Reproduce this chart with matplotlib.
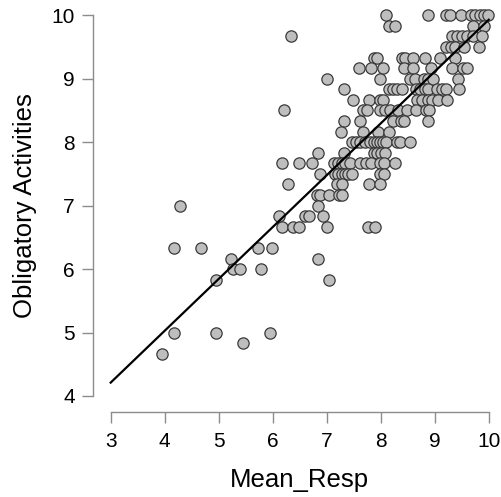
import numpy as np
import matplotlib
matplotlib.use('Agg')
import matplotlib.pyplot as plt

plt.rcParams['font.family'] = ['Liberation Sans', 'DejaVu Sans']

# Значения читаются по рядам: y кратен 1/6, x - среднее по ответам
rows = {
    10.0:  [8.10, 8.88, 9.21, 9.28, 9.49, 9.67, 9.75, 9.84, 9.91, 9.99],
    59/6:  [8.15, 8.27, 9.70, 9.92],
    58/6:  [6.34, 9.32, 9.41, 9.50, 9.60, 9.70, 9.88],
    9.5:   [9.21, 9.30, 9.38, 9.55, 9.82],
    56/6:  [7.88, 7.93, 8.39, 8.45, 8.60, 8.82, 9.09, 9.38],
    55/6:  [7.60, 7.82, 8.04, 8.43, 8.60, 8.93, 9.32, 9.52, 9.60],
    9.0:   [7.00, 7.99, 8.54, 8.63, 8.80, 8.88, 8.97, 9.43],
    53/6:  [7.32, 8.15, 8.23, 8.30, 8.39, 8.65, 8.73, 8.82, 8.88, 9.04, 9.14, 9.21, 9.45],
    52/6:  [7.49, 7.78, 7.99, 8.04, 8.67, 8.76, 8.88, 8.95, 9.06, 9.23],
    8.5:   [6.21, 7.67, 7.75, 7.99, 8.08, 8.17, 8.32, 8.49, 8.65, 8.84, 8.89],
    50/6:  [7.32, 7.62, 8.23, 8.38, 8.43, 8.88],
    49/6:  [7.26, 7.67, 7.95, 8.15],
    8.0:   [7.47, 7.54, 7.62, 7.71, 7.80, 7.88, 7.93, 7.99, 8.04, 8.10, 8.30, 8.36, 8.54],
    47/6:  [6.84, 7.32, 7.88, 7.93, 8.01, 8.08],
    46/6:  [6.17, 6.49, 6.73, 7.13, 7.21, 7.28, 7.34, 7.43, 7.62, 7.73, 7.82, 7.99, 8.06, 8.26],
    7.5:   [6.88, 7.15, 7.21, 7.28, 7.34, 7.39, 7.47, 7.99, 8.06],
    44/6:  [6.28, 7.19, 7.28, 7.78, 7.99],
    43/6:  [6.82, 6.88, 7.04, 7.23, 7.28],
    7.0:   [4.28, 6.84],
    41/6:  [6.12, 6.60, 6.67, 6.93],
    40/6:  [6.17, 6.38, 6.49, 7.00, 7.76, 7.89],
    38/6:  [4.17, 4.67, 5.72, 5.99],
    37/6:  [5.23, 6.84],
    6.0:   [5.27, 5.39, 5.78],
    35/6:  [4.95, 7.04],
    5.0:   [4.17, 4.95, 5.95],
    29/6:  [5.45],
    28/6:  [3.95],
}

mean_resp = []
oblig = []
for yv, xs in rows.items():
    mean_resp += xs
    oblig += [yv] * len(xs)
mean_resp = np.array(mean_resp)
oblig = np.array(oblig)

# линия регрессии (наклон, сдвиг) по картинке
line_slope = 0.817
line_icpt = 1.76
line_x = np.array([3, 10])

x_ticks = [3, 4, 5, 6, 7, 8, 9, 10]
y_ticks = [4, 5, 6, 7, 8, 9, 10]

W, H = 502, 497
fig = plt.figure(figsize=(W / 100, H / 100), dpi=100)
ax = fig.add_axes([92.7 / W, 1 - 412.3 / H, (W - 92.7) / W, 412.3 / H])

ax.scatter(mean_resp, oblig, s=66, c='#bebebe', edgecolors='#3a3a3a',
           linewidths=0.9, zorder=3, clip_on=False)
ax.plot(line_x, line_slope * line_x + line_icpt, color='black', lw=1.6, zorder=4)

ax.set_xlim(2.667, 10.246)
ax.set_ylim(3.743, 10.241)

for s in ['top', 'right']:
    ax.spines[s].set_visible(False)
ax.spines['left'].set_bounds(4, 10)
ax.spines['bottom'].set_bounds(3, 10)
for s in ['left', 'bottom']:
    ax.spines[s].set_color('#8c8c8c')
    ax.spines[s].set_linewidth(1.0)

ax.set_xticks(x_ticks)
ax.set_yticks(y_ticks)
ax.tick_params(axis='both', length=8, width=1.0, color='#8c8c8c',
               labelsize=15, labelcolor='black')
ax.tick_params(axis='x', pad=6)
ax.tick_params(axis='y', pad=5)

fig.text(299.7 / W, 1 - 487 / H, 'Mean_Resp', ha='center', va='baseline', fontsize=18.5)
fig.text(25 / W, 1 - 205.7 / H, 'Obligatory Activities', ha='center', va='center',
         rotation=90, fontsize=18.5)

plt.savefig('out.png', dpi=100)
plt.close()
